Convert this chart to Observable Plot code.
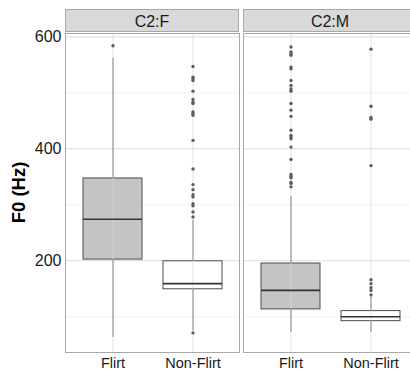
<!DOCTYPE html>
<html><head><meta charset="utf-8">
<script src="https://cdn.jsdelivr.net/npm/d3@7"></script>
<script src="https://cdn.jsdelivr.net/npm/@observablehq/plot@0.6"></script>
<style>
html,body{margin:0;padding:0;background:#fff;overflow:hidden;width:410px;height:370px}
#chart{position:relative;width:422px;height:370px}
</style></head><body><div id="chart"></div>
<script>
// ---- data ----
const facetNames = ["C2:F", "C2:M"];
const categories = ["Flirt", "Non-Flirt"];
const boxPanel = ["C2:F", "C2:F", "C2:M", "C2:M"];
const boxGroup = ["Flirt", "Non-Flirt", "Flirt", "Non-Flirt"];
const whiskerLow = [63, 75, 72, 72];
const q1 = [202, 149, 113, 92];
const median = [274, 159, 147, 100];
const q3 = [347, 199, 195, 110];
const whiskerHigh = [562, 272, 315, 136];
const outliersF_Flirt = [584];
const outliersF_NonFlirt = [547, 528, 525, 522, 503, 488, 483, 481, 466, 463, 460, 415, 364, 336, 327, 318, 314, 302, 298, 287, 278, 71];
const outliersM_Flirt = [582, 573, 570, 567, 546, 543, 522, 513, 507, 503, 481, 469, 458, 433, 424, 421, 418, 403, 381, 354, 351, 348, 340, 338, 332];
const outliersM_NonFlirt = [578, 476, 456, 453, 370, 166, 159, 152, 147, 139];
const majorTicks = [200, 400, 600];
const minorTicks = [100, 300, 500];
const yLabel = "F0 (Hz)";

// ---- tables ----
const boxes = boxPanel.map((p, i) => ({panel: p, group: boxGroup[i], lo: whiskerLow[i], q1: q1[i], med: median[i], q3: q3[i], hi: whiskerHigh[i]}));
const outliers = [
  ...outliersF_Flirt.map(v => ({panel: "C2:F", group: "Flirt", value: v})),
  ...outliersF_NonFlirt.map(v => ({panel: "C2:F", group: "Non-Flirt", value: v})),
  ...outliersM_Flirt.map(v => ({panel: "C2:M", group: "Flirt", value: v})),
  ...outliersM_NonFlirt.map(v => ({panel: "C2:M", group: "Non-Flirt", value: v}))
];

const font = "'Liberation Sans', Arial, Helvetica, sans-serif";
const plot = Plot.plot({
  width: 422, height: 370,
  marginTop: 33, marginBottom: 18, marginLeft: 64, marginRight: 5,
  style: {fontFamily: font, background: "white", color: "#1a1a1a"},
  fx: {domain: facetNames, paddingInner: 0.025, paddingOuter: 0, axis: null, label: null},
  x: {domain: categories, paddingInner: 0.2625, paddingOuter: 0.21875, label: null, axis: null},
  y: {domain: [36, 606], label: null, axis: null},
  marks: [
    Plot.ruleY(minorTicks, {stroke: "#f2f2f2"}),
    Plot.ruleY(majorTicks, {stroke: "#dcdcdc"}),
    Plot.ruleX(boxes, {fx: "panel", x: "group", y1: "q3", y2: "hi", stroke: "#5e5e5e"}),
    Plot.ruleX(boxes, {fx: "panel", x: "group", y1: "lo", y2: "q1", stroke: "#5e5e5e"}),
    Plot.barY(boxes.filter(d => d.group === "Flirt"), {fx: "panel", x: "group", y1: "q1", y2: "q3", fill: "#c4c4c4", stroke: "#4d4d4d"}),
    Plot.barY(boxes.filter(d => d.group !== "Flirt"), {fx: "panel", x: "group", y1: "q1", y2: "q3", fill: "white", stroke: "#4d4d4d"}),
    Plot.ruleX(categories, {x: d => d, stroke: "#d6d6d6", strokeOpacity: 0.7}),
    Plot.tickY(boxes, {fx: "panel", x: "group", y: "med", stroke: "#333", strokeWidth: 1.6}),
    Plot.dot(outliers, {fx: "panel", x: "group", y: "value", r: 1.7, fill: "#5e5e5e", stroke: "none"}),
    Plot.frame({stroke: "#a8a8a8"}),
    Plot.axisY(majorTicks, {tickSize: 0, tickPadding: 4, fontSize: 16, label: null}),
    Plot.axisX({tickSize: 0, tickPadding: 5, fontSize: 14.5, label: null})
  ]
});
document.getElementById("chart").appendChild(plot);

// ---- facet strips & y label, positioned from Plot's scales ----
const svg = d3.select(plot);
const fx = plot.scale("fx");
const ys = plot.scale("y");
const bw = fx.bandwidth;
facetNames.forEach(name => {
  const x0 = fx.apply(name);
  svg.append("rect").attr("x", x0 + 0.5).attr("y", 9.5).attr("width", bw - 1).attr("height", 22)
    .attr("fill", "#d9d9d9").attr("stroke", "#a8a8a8");
  svg.append("text").attr("x", x0 + bw / 2).attr("y", 21).attr("dy", "0.36em")
    .attr("text-anchor", "middle").attr("font-size", 16).attr("fill", "#1a1a1a")
    .attr("font-family", font).text(name);
});
const yMid = (ys.apply(ys.domain[0]) + ys.apply(ys.domain[1])) / 2;
svg.append("text").attr("transform", `translate(18,${yMid}) rotate(-90)`).attr("dy", "0.36em")
  .attr("text-anchor", "middle").attr("font-size", 18.5).attr("font-weight", "bold")
  .attr("fill", "#000").attr("font-family", font).text(yLabel);
</script></body></html>
